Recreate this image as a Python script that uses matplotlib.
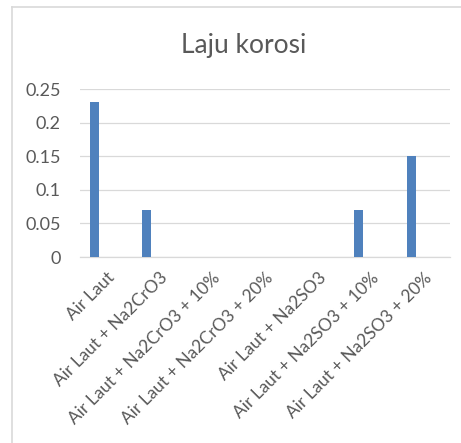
import matplotlib
matplotlib.use("Agg")
import matplotlib.pyplot as plt
from matplotlib.lines import Line2D
import numpy as np

categories = ["Air Laut", "Air Laut + Na2CrO3", "Air Laut + Na2CrO3 + 10%",
              "Air Laut + Na2CrO3 + 20%", "Air Laut + Na2SO3",
              "Air Laut + Na2SO3 + 10%", "Air Laut + Na2SO3 + 20%"]
values = [0.23, 0.07, 0, 0, 0, 0.07, 0.15]
yticks = [0, 0.05, 0.1, 0.15, 0.2, 0.25]
ytick_labels = ["0", "0.05", "0.1", "0.15", "0.2", "0.25"]

plt.rcParams['font.family'] = ['Lato', 'DejaVu Sans']
txt = '#595959'

fig = plt.figure(figsize=(4.61, 4.43), dpi=100)
ax = fig.add_axes([80/461, 1-257/443, 370/461, 168/443])

x = np.arange(len(categories))
ax.bar(x - 0.235, values, width=0.17, color='#4F81BD', zorder=3)
ax.set_xlim(-0.5, len(categories) - 0.5)
ax.set_ylim(0, 0.25)
ax.set_yticks(yticks)
ax.set_yticklabels(ytick_labels, color=txt, fontsize=13)
ax.set_xticks(x)
ax.set_xticklabels(categories, rotation=45, ha='right', rotation_mode='anchor',
                   color=txt, fontsize=12.5)
ax.tick_params(axis='y', length=0, pad=14)
ax.tick_params(axis='x', length=0, pad=9)
ax.grid(axis='y', color='#D9D9D9', linewidth=0.9, zorder=0)
for s in ['top', 'right', 'left']:
    ax.spines[s].set_visible(False)
ax.spines['bottom'].set_color('#D9D9D9')
ax.spines['bottom'].set_linewidth(0.9)

fig.text(244/461, 1-45/443, "Laju korosi", ha='center', va='center',
         fontsize=19, color=txt)

fig.add_artist(Line2D([12/461, 1], [1-7/443, 1-7/443], color='#D9D9D9', linewidth=1.2))
fig.add_artist(Line2D([12/461, 12/461], [0, 1-7/443], color='#D9D9D9', linewidth=1.2))

fig.savefig("out.png", dpi=100)
